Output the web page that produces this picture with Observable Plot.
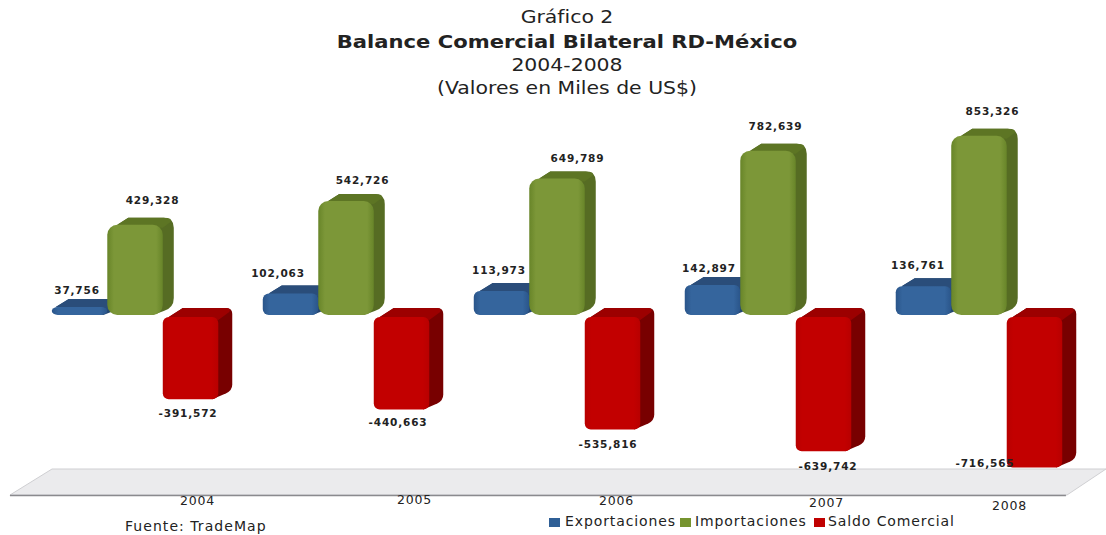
<!DOCTYPE html>
<html lang="es">
<head>
<meta charset="utf-8">
<script src="https://cdn.jsdelivr.net/npm/d3@7"></script>
<script src="https://cdn.jsdelivr.net/npm/@observablehq/plot@0.6"></script>
<style>
  html, body { margin: 0; padding: 0; background: #fff; overflow: hidden; }
  body { width: 1106px; height: 535px; font-family: "DejaVu Sans", sans-serif; color: #222; }
  #titles { height: 103px; position: relative; }
  #titles div { position: absolute; left: 0; width: 1134px; text-align: center; white-space: nowrap; }
  #chart { height: 407px; }
  #chart svg { display: block; overflow: visible; }
  #chart text { letter-spacing: 0.85px; }
  #foot { position: relative; height: 25px; overflow: hidden; font-size: 14px; }
  #foot span { position: absolute; white-space: nowrap; letter-spacing: 0.9px; }
  #foot i { position: absolute; width: 11px; height: 9px; }
</style>
</head>
<body>
<div id="titles">
  <div style="top:7px;font-size:17px;transform:scaleX(1.2)">Gráfico 2</div>
  <div style="top:31px;font-size:18.5px;font-weight:bold;transform:scaleX(1.14)">Balance Comercial Bilateral RD-México</div>
  <div style="top:55px;font-size:17px;transform:scaleX(1.2)">2004-2008</div>
  <div style="top:78px;font-size:17px;transform:scaleX(1.2)">(Valores en Miles de US$)</div>
</div>
<div id="chart"></div>
<div id="foot"></div>
<script>
const years = [2004, 2005, 2006, 2007, 2008];
const exportaciones = [37756, 102063, 113973, 142897, 136761];
const importaciones = [429328, 542726, 649789, 782639, 853326];
const saldo = [-391572, -440663, -535816, -639742, -716565];
const seriesNames = ["Exportaciones", "Importaciones", "Saldo Comercial"];
const source = "Fuente: TradeMap";

// Look of each series and hand placement of its labels (pixels).
const looks = [
  {values: exportaciones, slot: -1, r: 6, front: ["#2a558a", "#35659d"], top: "#2a4d7a", side: "#234670", dx: 13, dy: -8, base: 0,
   ldx: [-3, -13, -3, -4, -6], ldy: [-17, -20, -21, -17, -21]},
  {values: importaciones, slot: 0, r: 10, front: ["#688529", "#7c9738"], top: "#5d7524", side: "#566c23", dx: 11, dy: -7, base: 0,
   ldx: [17, 16, 20, 7, 13], ldy: [-25, -21, -20, -25, -25]},
  {values: saldo, slot: 1, r: 6, front: ["#b80000", "#c20000"], top: "#9c0000", side: "#780000", dx: 14, dy: -9, base: 2,
   ldx: [-3, -4, -5, 4, -50], ldy: [16, 15, 17, 17, -2]}
];
const barWidth = 55.5 / 211;
const rows = looks.map((l) => years.map((year, i) => ({year, value: l.values[i], i})));
const fmt = (v) => d3.format(",")(v).replace("\u2212", "-");
const left = (l, d) => d.year + (l.slot - 0.5) * barWidth;
const floorFront = -857143, floorBack = -733333;
const yearShift = [[62, 5], [68, 4], [59, 5], [58, 7], [30, 10]];

const defs = () => {
  const g = d3.create("svg:defs");
  looks.forEach((l, k) => {
    const lg = g.append("linearGradient").attr("id", "front" + k);
    lg.append("stop").attr("offset", "0%").attr("stop-color", l.front[0]);
    lg.append("stop").attr("offset", "12%").attr("stop-color", l.front[1]);
    lg.append("stop").attr("offset", "88%").attr("stop-color", l.front[1]);
    lg.append("stop").attr("offset", "100%").attr("stop-color", l.front[0]);
  });
  return g.node();
};

const floorMark = (index, {y}) => {
  const yf = y(floorFront), yb = y(floorBack);
  return d3.create("svg:path")
    .attr("d", `M10,${yf}L1067,${yf}L1106,${yb}L52,${yb}Z`)
    .attr("fill", "#ebebed").attr("stroke", "#cfcfd2").attr("stroke-width", 1).node();
};

const sideFaces = (l, data) => (index, {x, y}) => {
  const g = d3.create("svg:g");
  for (const d of data) {
    const x1 = x(left(l, d)), x2 = x(left(l, d) + barWidth);
    const a = y(d.value) + l.base, b = y(0) + l.base;
    const top = Math.min(a, b), bot = Math.max(a, b);
    const r = Math.min(l.r, (bot - top) / 2);
    const xb = x2 + l.dx, tb = top + l.dy, bb = bot + l.dy;
    // whole extruded outline in the side colour
    g.append("path")
      .attr("d", `M${x1 + r},${top}L${x1 + r + l.dx},${tb}L${xb - r},${tb}Q${xb},${tb} ${xb},${tb + r}L${xb},${bb - r}Q${xb},${bb} ${xb - r},${bb + 3}L${x2 - r},${bot}Z`)
      .attr("fill", l.side);
    // upper face
    g.append("path")
      .attr("d", `M${x1 + r},${top}L${x1 + r + l.dx},${tb}L${xb - r},${tb}Q${xb - 1},${tb} ${xb - 3},${tb + 4}L${x2},${top + 3}Z`)
      .attr("fill", l.top);
  }
  return g.node();
};

const barMarks = looks.flatMap((l, k) => [
  sideFaces(l, rows[k]),
  Plot.rect(rows[k], {
    x1: (d) => left(l, d),
    x2: (d) => left(l, d) + barWidth,
    y1: 0,
    y2: "value",
    dy: l.base,
    rx: l.r,
    fill: `url(#front${k})`
  })
]);

const valueLabels = looks.flatMap((l, k) => rows[k].map((d) =>
  Plot.text([d], {
    x: (e) => left(l, e) + barWidth / 2,
    y: "value",
    text: (e) => fmt(e.value),
    dx: l.ldx[d.i],
    dy: l.ldy[d.i],
    fontSize: 10.5,
    fontWeight: "bold",
    fill: "#222"
  })
));

const yearLabels = years.map((yr, i) =>
  Plot.text([yr], {
    x: (e) => e,
    y: () => floorFront,
    text: (e) => String(e),
    dx: yearShift[i][0],
    dy: yearShift[i][1],
    fontSize: 12.5,
    fill: "#222"
  })
);

const chart = Plot.plot({
  width: 1106,
  height: 407,
  marginTop: 0, marginRight: 0, marginBottom: 0, marginLeft: 0,
  style: {background: "transparent", fontFamily: "'DejaVu Sans', sans-serif"},
  x: {domain: [2003.36, 2008.602], range: [0, 1106], axis: null},
  y: {domain: [-928571, 1009524], range: [407, 0], axis: null},
  marks: [
    defs,
    floorMark,
    Plot.ruleY([floorFront], {x1: 2003.407, x2: 2008.412, stroke: "#8a8a8e", strokeWidth: 1.5}),
    ...barMarks,
    ...valueLabels,
    ...yearLabels
  ]
});
document.getElementById("chart").append(chart);

const foot = d3.select("#foot");
foot.append("span").style("left", "125px").style("top", "8px").style("letter-spacing", "1.05px").text(source);
const legendX = [549, 680, 814];
const labelX = [565, 695, 828];
const legendColors = ["#2f5f96", "#76942f", "#c00000"];
seriesNames.forEach((name, i) => {
  foot.append("i").style("left", legendX[i] + "px").style("top", "8px").style("background", legendColors[i]);
  foot.append("span").style("left", labelX[i] + "px").style("top", "3px").text(name);
});
</script>
</body>
</html>
